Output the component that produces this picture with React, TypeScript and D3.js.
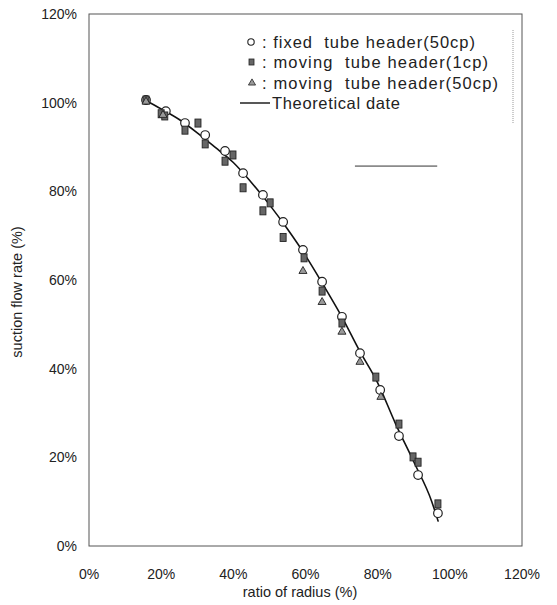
import React from 'react';
import * as d3 from 'd3';

// ratio of radius (%) / suction flow rate (%)
const fixedX = [15.8, 21.3, 26.6, 32.2, 37.7, 42.7, 48.2, 53.8, 59.3, 64.6, 70.1, 75.1, 80.7, 85.9, 91.2, 96.7];
const fixedY = [100.6, 98.1, 95.4, 92.7, 89.1, 84.1, 79.2, 73.1, 66.8, 59.6, 51.7, 43.5, 35.2, 24.8, 16.0, 7.4];

const moving1X = [15.8, 20.0, 21.0, 26.6, 30.2, 32.2, 37.7, 39.9, 42.7, 48.2, 50.2, 53.8, 59.6, 64.6, 70.1, 79.5, 85.9, 89.8, 91.2, 96.7];
const moving1Y = [100.6, 97.5, 97.0, 93.8, 95.4, 90.7, 86.8, 88.2, 80.8, 75.6, 77.4, 69.6, 65.0, 57.5, 50.3, 38.1, 27.5, 20.1, 18.9, 9.5];

const moving50X = [15.8, 20.5, 59.3, 64.6, 70.1, 75.1, 80.9];
const moving50Y = [100.2, 97.2, 62.0, 55.0, 48.3, 41.5, 33.6];

const theoryX = [16, 20, 25, 30, 35, 40, 45, 50, 55, 60, 65, 70, 75, 80, 85, 90, 95, 96.8];
const theoryY = [100.4, 98.6, 96.2, 93.2, 89.9, 86.5, 82.0, 77.0, 71.5, 65.5, 58.8, 51.8, 44.0, 36.8, 27.5, 19.0, 10.0, 5.5];

// stray short line in the original scan
const strayX = [73.7, 96.5];
const strayY = [85.7, 85.7];

const ticks = [0, 20, 40, 60, 80, 100, 120];

const legendItems = [
  ': fixed  tube header(50cp)',
  ': moving  tube header(1cp)',
  ': moving  tube header(50cp)',
  'Theoretical date',
];
const legendWidths = [213, 226, 236, 128];

const font = 'Liberation Sans, Arial, sans-serif';

export default function App() {
  const x = d3.scaleLinear().domain([0, 120]).range([89, 522]);
  const y = d3.scaleLinear().domain([0, 120]).range([546, 14]);

  const fixed = fixedX.map((v, i) => [v, fixedY[i]]);
  const moving1 = moving1X.map((v, i) => [v, moving1Y[i]]);
  const moving50 = moving50X.map((v, i) => [v, moving50Y[i]]);
  const theory = theoryX.map((v, i) => [v, theoryY[i]] as [number, number]);

  const line = d3
    .line<[number, number]>()
    .x((d) => x(d[0]))
    .y((d) => y(d[1]))
    .curve(d3.curveMonotoneX);

  const tri = d3.symbol().type(d3.symbolTriangle).size(28)();
  const triLegend = d3.symbol().type(d3.symbolTriangle).size(22)();

  const stray = strayX.map((v, i) => [v, strayY[i]] as [number, number]);

  const legendY = [42, 62, 83, 103];

  return (
    <svg
      width={557}
      height={605}
      style={{ position: 'absolute', left: 0, top: 0, background: '#fff' }}
      fontFamily={font}
    >
      <rect x={0} y={0} width={557} height={605} fill="#fff" />
      {/* plot frame */}
      <rect
        x={x(0)}
        y={y(120)}
        width={x(120) - x(0)}
        height={y(0) - y(120)}
        fill="none"
        stroke="#555"
        strokeWidth={1}
      />

      {/* y ticks */}
      {ticks.map((t) => (
        <text key={'y' + t} x={77} y={y(t)} dy="0.35em" textAnchor="end" fontSize={14} fill="#222">
          {t}%
        </text>
      ))}
      {/* x ticks */}
      {ticks.map((t) => (
        <text key={'x' + t} x={x(t)} y={579} textAnchor="middle" fontSize={14} fill="#222">
          {t}%
        </text>
      ))}

      <text x={300} y={597} textAnchor="middle" fontSize={14.5} fill="#222">
        ratio of radius (%)
      </text>
      <text
        transform={`translate(22,${y(60) + 12}) rotate(-90)`}
        textAnchor="middle"
        fontSize={14.5}
        fill="#222"
      >
        suction flow rate (%)
      </text>

      {/* theoretical line */}
      <path d={line(theory) || ''} fill="none" stroke="#111" strokeWidth={1.6} />
      <path d={line(stray) || ''} fill="none" stroke="#333" strokeWidth={1} />

      {/* fixed tube header (open circles) */}
      {fixed.map((d, i) => (
        <circle key={'c' + i} cx={x(d[0])} cy={y(d[1])} r={4.3} fill="#fff" stroke="#222" strokeWidth={1.2} />
      ))}
      {/* moving tube header 1cp (hatched squares) */}
      {moving1.map((d, i) => (
        <rect
          key={'s' + i}
          x={x(d[0]) - 3}
          y={y(d[1]) - 4}
          width={6}
          height={8}
          fill="#666"
          stroke="#222"
          strokeWidth={0.9}
        />
      ))}
      {/* moving tube header 50cp (triangles) */}
      {moving50.map((d, i) => (
        <path
          key={'t' + i}
          d={tri || ''}
          transform={`translate(${x(d[0])},${y(d[1])})`}
          fill="#999"
          stroke="#222"
          strokeWidth={0.9}
        />
      ))}

      {/* legend */}
      <line x1={513} x2={513} y1={30} y2={124} stroke="#999" strokeWidth={1} strokeDasharray="1,1" />
      <circle cx={251} cy={legendY[0]} r={3.2} fill="#fff" stroke="#222" strokeWidth={1.1} />
      <rect x={249} y={legendY[1] - 3} width={5} height={6} fill="#666" stroke="#222" strokeWidth={0.8} />
      <path d={triLegend || ''} transform={`translate(252,${legendY[2]})`} fill="#999" stroke="#222" strokeWidth={0.8} />
      <line x1={240} x2={270} y1={legendY[3]} y2={legendY[3]} stroke="#111" strokeWidth={1.4} />
      {legendItems.map((s, i) => (
        <text
          key={'l' + i}
          x={i === 3 ? 272 : 262}
          y={legendY[i]}
          dy="0.35em"
          fontSize={16.5}
          fill="#222"
          textLength={legendWidths[i]}
          lengthAdjust="spacing"
          style={{ whiteSpace: 'pre' }}
        >
          {s}
        </text>
      ))}
    </svg>
  );
}
